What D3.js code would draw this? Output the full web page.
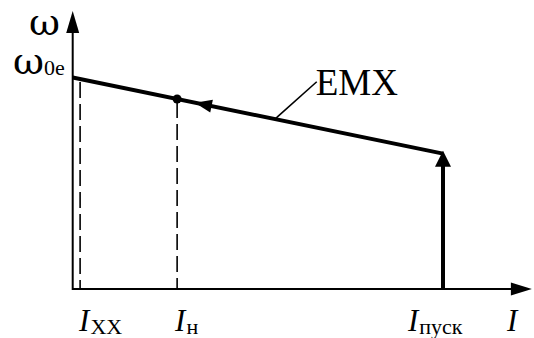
<!DOCTYPE html>
<html>
<head>
<meta charset="utf-8">
<script src="https://cdn.jsdelivr.net/npm/d3@7"></script>
<style>
  html, body { margin: 0; padding: 0; background: #fff; }
  svg { display: block; }
</style>
</head>
<body>
<script>
// Current values (relative to starting current) and speed values (relative to ω0e)
const currentNames = ["Iхх", "Iн", "Iпуск"];
const currentValues = [0.02, 0.282, 1.0];
const speedAtZeroCurrent = 1.0;     // ω0e
const speedAtStart = 0.64;          // ω at Iпуск
const axisMaxCurrent = 1.24;
const axisMaxSpeed = 1.314;
const lineArrowCurrent = [0.33];    // direction marker on the characteristic
const leaderStart = [0.546];        // EMX leader touches the line here
const leaderEnd = [0.659, 0.98];    // EMX leader end (I, ω)

const W = 534, H = 338;
const FONT = "'Liberation Serif', 'Times New Roman', Times, serif";
const GREEK = "'DejaVu Serif', serif";
const svg = d3.select("body").append("svg").attr("width", W).attr("height", H);

const x = d3.scaleLinear().domain([0, 1]).range([72.7, 443]);
const y = d3.scaleLinear().domain([0, 1]).range([289, 77.5]);

const omega = I => speedAtZeroCurrent + (speedAtStart - speedAtZeroCurrent) * I / currentValues[2];

// Axes
svg.append("line").attr("x1", x(0)).attr("y1", y(0)).attr("x2", x(axisMaxCurrent) - 18).attr("y2", y(0))
  .attr("stroke", "#000").attr("stroke-width", 2);
svg.append("line").attr("x1", x(0)).attr("y1", y(0) + 1).attr("x2", x(0)).attr("y2", y(axisMaxSpeed) + 18)
  .attr("stroke", "#000").attr("stroke-width", 2);
// axis arrowheads
const xa = x(axisMaxCurrent), ya = y(0);
svg.append("path").attr("d", `M${xa},${ya} L${xa - 21},${ya - 6.5} L${xa - 21},${ya + 6.5} Z`).attr("fill", "#000");
const yx = x(0), yy = y(axisMaxSpeed);
svg.append("path").attr("d", `M${yx},${yy} L${yx - 6.5},${yy + 22} L${yx + 6.5},${yy + 22} Z`).attr("fill", "#000");

// Dashed verticals for Iхх and Iн
[currentValues[0], currentValues[1]].forEach(I => {
  svg.append("line")
    .attr("x1", x(I)).attr("x2", x(I))
    .attr("y1", y(omega(I)) + 3).attr("y2", y(0))
    .attr("stroke", "#000").attr("stroke-width", 1.6)
    .attr("stroke-dasharray", "16,6");
});

// Characteristic line
svg.append("line")
  .attr("x1", x(0)).attr("y1", y(omega(0)))
  .attr("x2", x(currentValues[2])).attr("y2", y(omega(currentValues[2])))
  .attr("stroke", "#000").attr("stroke-width", 4);

// Vertical starting line with arrow
const xs = x(currentValues[2]);
svg.append("line").attr("x1", xs).attr("x2", xs).attr("y1", y(0)).attr("y2", y(speedAtStart) + 8)
  .attr("stroke", "#000").attr("stroke-width", 4);
const ys = y(speedAtStart) - 3;
svg.append("path").attr("d", `M${xs},${ys} L${xs - 8},${ys + 16} L${xs + 8},${ys + 16} Z`).attr("fill", "#000");

// Direction arrow on the characteristic (pointing toward lower current)
lineArrowCurrent.forEach(I => {
  const tx = x(I), ty = y(omega(I));
  const ang = Math.atan2(y(omega(I + 0.1)) - ty, x(I + 0.1) - tx) * 180 / Math.PI;
  svg.append("path")
    .attr("d", "M0,0 L17,-6.5 L17,6.5 Z")
    .attr("transform", `translate(${tx},${ty}) rotate(${ang})`)
    .attr("fill", "#000");
});

// Rated point
svg.append("circle").attr("cx", x(currentValues[1])).attr("cy", y(omega(currentValues[1]))).attr("r", 4.5).attr("fill", "#000");

// EMX leader and label
svg.append("line")
  .attr("x1", x(leaderStart[0])).attr("y1", y(omega(leaderStart[0])))
  .attr("x2", x(leaderEnd[0])).attr("y2", y(leaderEnd[1]))
  .attr("stroke", "#000").attr("stroke-width", 1.6);
svg.append("text").attr("font-family", FONT).attr("x", x(leaderEnd[0]) - 1).attr("y", 95).attr("font-size", 37).text("EMX");

// Y-axis labels
svg.append("text").attr("font-family", GREEK).attr("x", 29).attr("y", 35).attr("font-size", 38).text("ω");
const w0 = svg.append("text").attr("x", 13).attr("y", 74);
w0.append("tspan").attr("font-family", GREEK).attr("font-size", 38).text("ω");
w0.append("tspan").attr("font-family", FONT).attr("font-size", 22).attr("dy", 1).text("0e");

// X-axis labels
const labelX = [x(currentValues[0]) - 1, x(currentValues[1]) - 2, x(currentValues[2]) - 35];
const subs = ["XX", "н", "пуск"];
labelX.forEach((lx, i) => {
  const t = svg.append("text").attr("font-family", FONT).attr("x", lx).attr("y", 331).attr("font-size", 31);
  t.append("tspan").attr("font-style", "italic").text("I");
  t.append("tspan").attr("font-size", 22).attr("dy", 3).attr("dx", 1).text(subs[i]);
});
svg.append("text").attr("font-family", FONT).attr("x", 507).attr("y", 331).attr("font-size", 31).attr("font-style", "italic").text("I");
</script>
</body>
</html>
